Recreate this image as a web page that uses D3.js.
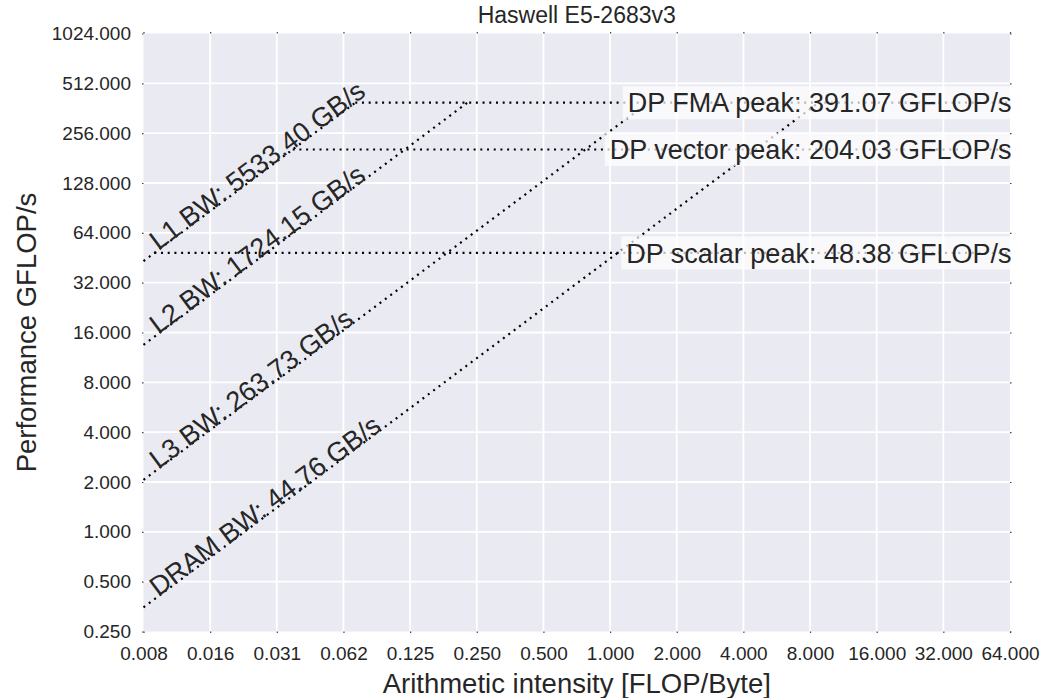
<!DOCTYPE html>
<html>
<head>
<meta charset="utf-8">
<script src="https://cdn.jsdelivr.net/npm/d3@7"></script>
<style>
  body { margin: 0; background: #fff; }
  svg text { font-family: "Liberation Sans", Arial, sans-serif; fill: #262626; }
</style>
</head>
<body>
<div id="chart"></div>
<script>
// roofline data (Haswell E5-2683v3)
const bwNames = ["L1", "L2", "L3", "DRAM"];
const bwValues = [5533.40, 1724.15, 263.73, 44.76];
const peakNames = ["DP FMA", "DP vector", "DP scalar"];
const peakValues = [391.07, 204.03, 48.38];

const xTicks = [0.0078125, 0.015625, 0.03125, 0.0625, 0.125, 0.25, 0.5, 1, 2, 4, 8, 16, 32, 64];
const xTickLabels = ["0.008", "0.016", "0.031", "0.062", "0.125", "0.250", "0.500", "1.000", "2.000", "4.000", "8.000", "16.000", "32.000", "64.000"];
const yTicks = [0.25, 0.5, 1, 2, 4, 8, 16, 32, 64, 128, 256, 512, 1024];
const yTickLabels = ["0.250", "0.500", "1.000", "2.000", "4.000", "8.000", "16.000", "32.000", "64.000", "128.000", "256.000", "512.000", "1024.000"];

const width = 1054, height = 698;
const plotLeft = 143.5, plotRight = 1010, plotTop = 33.5, plotBottom = 631.5;

const svg = d3.select('#chart').append('svg')
  .attr('width', width)
  .attr('height', height);

const x = d3.scaleLog().base(2).domain([xTicks[0], xTicks[xTicks.length - 1]]).range([plotLeft, plotRight]);
const y = d3.scaleLog().base(2).domain([yTicks[0], yTicks[yTicks.length - 1]]).range([plotBottom, plotTop]);

// background + grid
svg.append('rect')
  .attr('x', plotLeft).attr('y', plotTop)
  .attr('width', plotRight - plotLeft).attr('height', plotBottom - plotTop)
  .attr('fill', '#eaeaf2');

const grid = svg.append('g').attr('stroke', '#fff').attr('stroke-width', 1.8);
grid.selectAll('line.vx').data(xTicks.slice(1, -1)).join('line')
  .attr('x1', d => x(d)).attr('x2', d => x(d))
  .attr('y1', plotTop).attr('y2', plotBottom);
grid.selectAll('line.hy').data(yTicks.slice(1, -1)).join('line')
  .attr('y1', d => y(d)).attr('y2', d => y(d))
  .attr('x1', plotLeft).attr('x2', plotRight);

// axes (tiny ticks, labels)
const xAxis = d3.axisBottom(x).tickValues(xTicks).tickSize(1.5).tickPadding(14)
  .tickFormat((d, i) => xTickLabels[i]);
const yAxis = d3.axisLeft(y).tickValues(yTicks).tickSize(1.5).tickPadding(11)
  .tickFormat((d, i) => yTickLabels[i]);

const gx = svg.append('g').attr('transform', `translate(0,${plotBottom})`).call(xAxis);
const gy = svg.append('g').attr('transform', `translate(${plotLeft},0)`).call(yAxis);
svg.append('g').attr('transform', `translate(0,${plotTop})`)
  .call(d3.axisTop(x).tickValues(xTicks).tickSize(1.5).tickFormat(''));
svg.append('g').attr('transform', `translate(${plotRight},0)`)
  .call(d3.axisRight(y).tickValues(yTicks).tickSize(1.5).tickFormat(''));

svg.selectAll('.domain').remove();
svg.selectAll('.tick line').attr('stroke', '#444').attr('stroke-width', 1.2);
gx.selectAll('text').attr('font-size', '19px').attr('fill', '#262626');
gy.selectAll('text').attr('font-size', '19px').attr('fill', '#262626');

// title + axis labels
svg.append('text')
  .attr('x', (plotLeft + plotRight) / 2).attr('y', 23)
  .attr('text-anchor', 'middle').attr('font-size', '23px')
  .text('Haswell E5-2683v3');

svg.append('text')
  .attr('x', (plotLeft + plotRight) / 2).attr('y', 693)
  .attr('text-anchor', 'middle').attr('font-size', '27.5px')
  .text('Arithmetic intensity [FLOP/Byte]');

svg.append('text')
  .attr('transform', `translate(35.5,${(plotTop + plotBottom) / 2}) rotate(-90)`)
  .attr('text-anchor', 'middle').attr('font-size', '27.5px')
  .text('Performance GFLOP/s');

// roofline lines
const lines = svg.append('g')
  .attr('fill', 'none')
  .attr('stroke', '#000')
  .attr('stroke-width', 2.2)
  .attr('stroke-dasharray', '2,4.7');

const xMin = xTicks[0], xMax = xTicks[xTicks.length - 1];
const topPeak = peakValues[0];

// bandwidth ceilings: from the left edge up to the top compute peak
lines.selectAll('line.bw').data(bwValues).join('line')
  .attr('x1', x(xMin)).attr('y1', d => y(d * xMin))
  .attr('x2', d => x(topPeak / d)).attr('y2', y(topPeak));

// compute ceilings: from the L1 roof to the right edge
lines.selectAll('line.pk').data(peakValues).join('line')
  .attr('x1', d => x(d / bwValues[0])).attr('y1', d => y(d))
  .attr('x2', x(xMax)).attr('y2', d => y(d));

// peak labels with translucent boxes
const peakLabels = svg.append('g');
peakValues.forEach((v, i) => {
  const g = peakLabels.append('g');
  const rect = g.append('rect');
  const t = g.append('text')
    .attr('x', 1011.5).attr('y', y(v))
    .attr('dy', '0.36em')
    .attr('text-anchor', 'end')
    .attr('font-size', '27px')
    .text(`${peakNames[i]} peak: ${v.toFixed(2)} GFLOP/s`);
  const bb = t.node().getBBox();
  rect.attr('x', bb.x - 5).attr('y', y(v) - 16.5)
    .attr('width', plotRight - (bb.x - 5)).attr('height', 33)
    .attr('fill', '#fff').attr('fill-opacity', 0.72);
});

// bandwidth labels along the lines (baseline sits on the line)
const angle = Math.atan2(y(1) - y(2), x(2) - x(1)) * 180 / Math.PI;
svg.append('g').selectAll('text').data(bwValues).join('text')
  .attr('transform', d => `translate(${x(xMin)},${y(d * xMin)}) rotate(${-angle})`)
  .attr('x', 18)
  .attr('dy', 0.5)
  .attr('font-size', '27px')
  .text((d, i) => `${bwNames[i]} BW: ${d.toFixed(2)} GB/s`);
</script>
</body>
</html>
